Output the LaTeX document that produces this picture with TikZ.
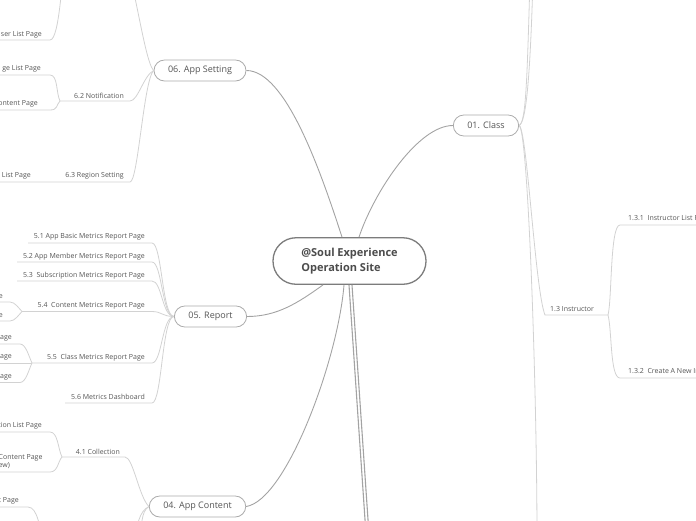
\documentclass[tikz,border=0pt]{standalone}
\usepackage{fontspec}
\setmainfont{Open Sans}
\definecolor{trunkgray}{HTML}{A3A3A3}
\definecolor{twiggray}{HTML}{D2D2D2}
\definecolor{boxgray}{HTML}{ABABAB}
\definecolor{rootgray}{HTML}{7C7C7C}
\definecolor{inkgray}{HTML}{555555}
\tikzset{
  rootbox/.style={draw=rootgray, line width=1.3pt, fill=white, rounded corners=23pt,
    minimum width=153pt, minimum height=46.5pt, align=left, text=inkgray!90!black,
    font=\bfseries\fontsize{11}{15}\selectfont},
  topic/.style={draw=boxgray, line width=0.8pt, fill=white, rounded corners=10.5pt,
    minimum height=21pt, inner xsep=14pt, text=inkgray, font=\fontsize{9}{11}\selectfont},
  leaf/.style={inner sep=0pt, yshift=-1.2pt, text=inkgray, font=\fontsize{7}{8.5}\selectfont},
  trunk/.style={draw=trunkgray, line width=0.9pt},
  twig/.style={draw=twiggray, line width=0.8pt},
}
\begin{document}
\begin{tikzpicture}[x=1pt,y=-1pt]
\useasboundingbox (0,0) rectangle (696,520);
\clip (0,0) rectangle (696,520);

% main topics
\node[rootbox] (site) at (349.5,261) {@Soul Experience\\Operation Site};
\node[topic] (setting) at (200,70.5) {06. App Setting};
\node[topic] (report) at (210.5,316.5) {05. Report};
\node[topic] (content) at (197.5,506.5) {04. App Content};
\node[topic] (class) at (486,125.5) {01. Class};
\coordinate (topic2) at (366.4,540); \coordinate (topic3) at (369.4,540);

\draw[trunk] ([xshift=-7.5pt]site.north) .. controls +(-22,-68) and +(39,0) .. (setting.east);
\draw[trunk] ([xshift=9.5pt]site.north) .. controls +(15,-45) and +(-35,0) .. (class.west);
\draw[trunk] ([xshift=-26.5pt]site.south) .. controls +(-25,18) and +(30,0) .. (report.east);
\draw[trunk] ([xshift=-5.5pt]site.south) .. controls +(-6,75) and +(40,-6) .. (content.east);
\draw[trunk,line width=1.1pt] ([xshift=-0.5pt]site.south) -- (topic2);
\draw[trunk,line width=1.1pt] ([xshift=2.5pt]site.south) -- (topic3);

% 01. Class
\coordinate (c11) at (530,-20); \coordinate (c12) at (533,-20); \coordinate (c14) at (537,540);
\draw[twig] (class.east) .. controls +(7,-3) and +(-3,100) .. (c11);
\draw[twig] (class.east) .. controls +(7,-3) and +(-3,100) .. (c12);
\draw[twig] (class.east) .. controls +(9,3) and +(0,-150) .. (c14);
\coordinate (instr-l) at (545,315); \coordinate (instr-r) at (608,315);
\draw[twig] (class.east) .. controls +(8,3) and +(-10,-25) .. (instr-l) -- (instr-r);
\node[leaf,anchor=west] (instr) at (550,308) {1.3 Instructor};
\coordinate (ilist-l) at (620,225); \coordinate (ilist-r) at (700,225);
\coordinate (inew-l) at (620,378); \coordinate (inew-r) at (700,378);
\draw[twig] (instr-r) .. controls +(4,-15) and +(-10,0) .. (ilist-l) -- (ilist-r);
\draw[twig] (instr-r) .. controls +(4,15) and +(-10,0) .. (inew-l) -- (inew-r);
\node[leaf,anchor=west] (ilist) at (628,217.5) {1.3.1\ \ Instructor List Page};
\node[leaf,anchor=west] (inew) at (628,371) {1.3.2\ \ Create A New Instructor Page};

% 06. App Setting
\coordinate (s61) at (122,-40); \coordinate (p61) at (66,-45);
\draw[twig] (setting.west) .. controls +(-10,-10) and +(10,0) .. (s61);
\coordinate (ulist-r) at (50,40); \coordinate (ulist-l) at (0,40);
\draw[twig] (p61) .. controls +(-4,15) and +(10,0) .. (ulist-r) -- (ulist-l);
\node[leaf,anchor=east] (ulist) at (42,33.5) {ser List Page};
\coordinate (notif-l) at (60,101); \coordinate (notif-r) at (130,101);
\draw[twig] (setting.west) .. controls +(-10,5) and +(8,0) .. (notif-r) -- (notif-l);
\node[leaf,anchor=east] (notif) at (124,94.5) {6.2 Notification};
\coordinate (mlist-r) at (50,75); \coordinate (mlist-l) at (0,75);
\coordinate (mcont-r) at (50,110); \coordinate (mcont-l) at (0,110);
\draw[twig] (notif-l) .. controls +(-4,-8) and +(8,0) .. (mlist-r) -- (mlist-l);
\draw[twig] (notif-l) .. controls +(-4,4) and +(8,0) .. (mcont-r) -- (mcont-l);
\node[leaf,anchor=east] (mlist) at (41,68) {ge List Page};
\node[leaf,anchor=east] (mcont) at (38,103) {ontent Page};
\coordinate (region-r) at (130,182); \coordinate (region-l) at (58,182); \coordinate (rlist-l) at (0,182);
\draw[twig] (setting.west) .. controls +(-10,10) and +(8,0) .. (region-r) -- (region-l) -- (rlist-l);
\node[leaf,anchor=east] (region) at (124,175) {6.3 Region Setting};
\node[leaf,anchor=east] (rlist) at (31,175) {List Page};

% 05. Report
\foreach \nm/\yy/\xl/\txt in {m1/243/28/{5.1 App Basic Metrics Report Page},
    m2/262/17/{5.2 App Member Metrics Report Page},
    m3/281/17/{5.3\ \ Subscription Metrics Report Page},
    m4/311.5/22/{5.4\ \ Content Metrics Report Page},
    m5/363/32/{5.5\ \ Class Metrics Report Page},
    m6/403/65/{5.6 Metrics Dashboard}}
{
  \coordinate (\nm-l) at (\xl,\yy);
  \coordinate (\nm-r) at (152,\yy);
  \draw[twig] (report.west) .. controls +(-12,0) and +(10,0) .. (\nm-r) -- (\nm-l);
  \node[leaf,anchor=east] (\nm) at (145,\yy-7) {\txt};
}
\coordinate (m4a) at (10,302); \coordinate (m4b) at (10,321);
\draw[twig] (m4-l) .. controls +(-3,-3) and +(5,0) .. (m4a) -- (0,302);
\draw[twig] (m4-l) .. controls +(-3,3) and +(5,0) .. (m4b) -- (0,321);
\node[leaf,anchor=east] (m4x) at (3,295.5) {e};
\node[leaf,anchor=east] (m4y) at (3,314.5) {e};
\coordinate (m5a) at (20,344); \coordinate (m5b) at (0,363); \coordinate (m5c) at (20,382.5);
\draw[twig] (m5-l) .. controls +(-3,-6) and +(6,0) .. (m5a) -- (0,344);
\draw[twig] (m5-l) -- (m5b);
\draw[twig] (m5-l) .. controls +(-3,6) and +(6,0) .. (m5c) -- (0,382.5);
\node[leaf,anchor=east] (m5x) at (12,337) {age};
\node[leaf,anchor=east] (m5y) at (12,356.5) {age};
\node[leaf,anchor=east] (m5z) at (12,376) {age};

% 04. App Content
\coordinate (coll-r) at (125,457); \coordinate (coll-l) at (62,457);
\draw[twig] (content.west) .. controls +(-10,-10) and +(8,0) .. (coll-r) -- (coll-l);
\node[leaf,anchor=east] (coll) at (120,450.5) {4.1 Collection};
\coordinate (clist-r) at (50,432); \coordinate (ccont-r) at (50,472);
\draw[twig] (coll-l) .. controls +(-4,-8) and +(8,0) .. (clist-r) -- (0,432);
\draw[twig] (coll-l) .. controls +(-4,4) and +(8,0) .. (ccont-r) -- (0,472);
\node[leaf,anchor=east] (clist) at (42,424.5) {tion List Page};
\node[leaf,anchor=west,align=left,font=\fontsize{7}{8.3}\selectfont] (ccont) at (-1.5,460) {Content Page\\ew)};
\coordinate (c42) at (134,545); \coordinate (c43) at (139,545); \coordinate (p42) at (44,545);
\draw[twig] (content.west) .. controls +(-10,5) and +(3,-20) .. (c42);
\draw[twig] (content.west) .. controls +(-8,5) and +(3,-20) .. (c43);
\coordinate (tpage-r) at (28,507);
\draw[twig] (p42) .. controls +(-4,-15) and +(10,0) .. (tpage-r) -- (0,507);
\node[leaf,anchor=east] (tpage) at (19,499.5) {t Page};
\end{tikzpicture}
\end{document}
